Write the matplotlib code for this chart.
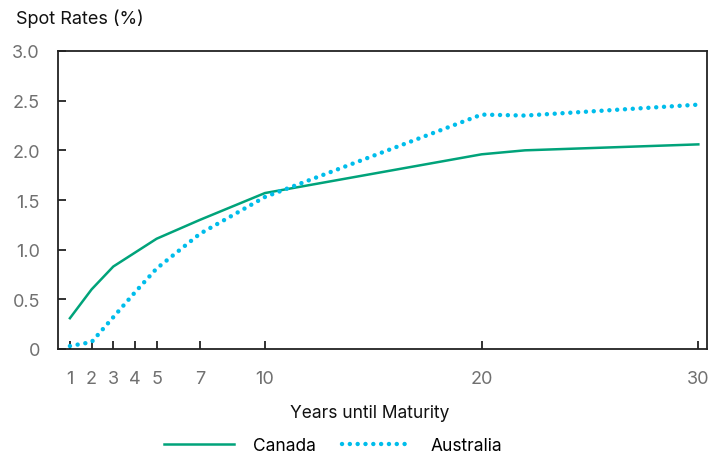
import matplotlib
matplotlib.use("Agg")
import matplotlib.pyplot as plt
from matplotlib.lines import Line2D

years_canada = [1, 2, 3, 4, 5, 7, 10, 20, 22, 30]
canada = [0.31, 0.60, 0.83, 0.97, 1.11, 1.30, 1.57, 1.96, 2.00, 2.06]
years_aus = [1, 2, 3, 4, 5, 7, 10, 20, 22, 30]
australia = [0.03, 0.07, 0.32, 0.57, 0.81, 1.16, 1.53, 2.36, 2.35, 2.46]
xticks = [1, 2, 3, 4, 5, 7, 10, 20, 30]
yticks = [0, 0.5, 1.0, 1.5, 2.0, 2.5, 3.0]
ytick_labels = ["0", "0.5", "1.0", "1.5", "2.0", "2.5", "3.0"]

plt.rcParams['font.family'] = ['Inter', 'DejaVu Sans']

GREEN = "#00A37A"
CYAN = "#00BDEB"
GRAY = "#707070"

fig = plt.figure(figsize=(7.10, 4.56), dpi=100)
ax = fig.add_axes([58/710, 1-350/456, (707-58)/710, (350-52)/456])

ax.plot(years_canada, canada, color=GREEN, lw=1.8, solid_joinstyle='round')
ax.plot(years_aus, australia, color=CYAN, lw=3.2, linestyle=(0, (0.01, 1.75)),
        dash_capstyle='round')

ax.set_xlim(0.45, 30.4)
ax.set_ylim(0, 3.0)
ax.set_xticks(xticks)
ax.set_xticklabels([str(x) for x in xticks])
ax.set_yticks(yticks)
ax.set_yticklabels(ytick_labels)

for s in ax.spines.values():
    s.set_color("#222222")
    s.set_linewidth(1.3)

ax.tick_params(axis='x', direction='in', length=6, width=1.3, color="#222222",
               labelcolor=GRAY, labelsize=13, pad=15)
ax.tick_params(axis='y', direction='in', length=6, width=1.3, color="#222222",
               labelcolor=GRAY, labelsize=13, pad=13)

fig.text(16/710, 1-19/456, "Spot Rates (%)", fontsize=13, color="#111111",
         ha='left', va='center')
fig.text(370/710, 1-414/456, "Years until Maturity", fontsize=12.5, color="#111111",
         ha='center', va='center')

handles = [Line2D([], [], color=GREEN, lw=1.8),
           Line2D([], [], color=CYAN, lw=3.2, linestyle=(0, (0.01, 1.75)),
                  dash_capstyle='round')]
fig.legend(handles, ["Canada", "Australia"], loc='center', ncol=2,
           bbox_to_anchor=(333/710, 1-447/456), frameon=False, fontsize=12.5,
           handlelength=4.0, handletextpad=1.1, columnspacing=1.5)

fig.savefig("out.png", dpi=100)
